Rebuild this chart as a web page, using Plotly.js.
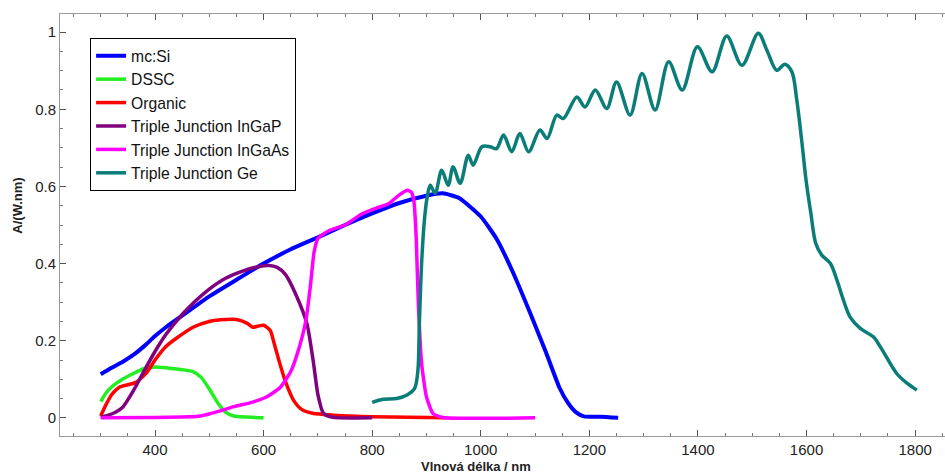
<!DOCTYPE html>
<html>
<head>
<meta charset="utf-8">
<script src="https://cdn.plot.ly/plotly-3.0.1.min.js"></script>
<style>
html,body{margin:0;padding:0;background:#fff;overflow:hidden;}
#chart{width:945px;height:476px;}
</style>
</head>
<body>
<div id="chart"></div>
<script>
// ---- Data ----
const seriesNames = ["mc:Si","DSSC","Organic","Triple Junction InGaP","Triple Junction InGaAs","Triple Junction Ge"];

const siX = [300,320,340,360,380,400,420,450,500,550,600,650,700,750,800,850,900,930,960,1000,1030,1060,1090,1120,1145,1160,1175,1190,1220,1253];
const siY = [0.113,0.130,0.145,0.163,0.186,0.212,0.235,0.265,0.315,0.358,0.400,0.437,0.468,0.500,0.530,0.557,0.576,0.582,0.570,0.522,0.462,0.375,0.275,0.170,0.078,0.040,0.015,0.004,0.003,0.000];

const dsscX = [300,310,320,340,360,380,400,420,450,470,485,500,515,530,545,570,600];
const dsscY = [0.042,0.065,0.080,0.100,0.115,0.128,0.132,0.130,0.125,0.120,0.105,0.075,0.040,0.015,0.005,0.002,0.000];

const orgX = [300,310,320,335,350,365,385,400,420,440,470,500,530,550,570,580,590,600,612,620,630,640,655,670,690,730,800,935];
const orgY = [0.005,0.035,0.060,0.080,0.086,0.092,0.118,0.150,0.185,0.207,0.235,0.250,0.255,0.255,0.245,0.235,0.238,0.240,0.227,0.190,0.140,0.095,0.046,0.022,0.012,0.007,0.003,0.000];

const ingapX = [300,320,340,360,380,400,420,450,480,500,530,560,590,610,625,640,660,680,692,700,710,725,800];
const ingapY = [0.002,0.010,0.027,0.070,0.122,0.172,0.216,0.268,0.310,0.334,0.362,0.380,0.392,0.395,0.390,0.372,0.318,0.243,0.141,0.060,0.012,0.002,0.000];

const ingaasX = [300,400,450,480,500,520,545,580,605,630,650,665,678,686,693,700,720,750,780,810,830,850,865,872,877,881,885,891,900,912,930,1100];
const ingaasY = [0.000,0.001,0.002,0.004,0.010,0.018,0.029,0.041,0.054,0.078,0.120,0.180,0.253,0.340,0.430,0.465,0.485,0.500,0.528,0.545,0.555,0.578,0.590,0.585,0.560,0.469,0.297,0.141,0.054,0.011,0.001,0.000];

const geX = [800,820,845,865,878,884,887,891,896,901,907,916,928,940,949,962,977,986,1002,1017,1029,1042,1057,1072,1088,1109,1122,1140,1152,1177,1192,1211,1232,1250,1275,1297,1321,1346,1371,1399,1426,1453,1481,1511,1527,1545,1560,1573,1582,1591,1599,1608,1617,1628,1644,1656,1668,1680,1699,1723,1736,1766,1785,1803];
const geY = [0.040,0.048,0.050,0.060,0.076,0.120,0.250,0.400,0.510,0.570,0.603,0.582,0.642,0.603,0.651,0.608,0.681,0.655,0.703,0.703,0.698,0.733,0.690,0.737,0.690,0.746,0.724,0.785,0.776,0.832,0.806,0.850,0.802,0.871,0.785,0.893,0.798,0.923,0.850,0.962,0.897,0.990,0.914,0.997,0.953,0.901,0.917,0.897,0.824,0.720,0.617,0.530,0.452,0.422,0.400,0.357,0.305,0.262,0.232,0.210,0.184,0.115,0.090,0.072];

const xTickVals = [400,600,800,1000,1200,1400,1600,1800];
const yTickVals = [0,0.2,0.4,0.6,0.8,1];
const yTickText = ["0","0.2","0.4","0.6","0.8","1"];

const xTitle = "Vlnová délka / nm";
const yTitle = "A/(W.nm)";

// ---- Styling ----
const colors = ["#0000ff","#22ee22","#ff0000","#800080","#ff00ff","#0a7d78"];
const widths = [4,3.5,3.5,3.5,3.5,3.5];
const smooth = [0.5,0.6,0.6,0.6,0.5,0.9];
const xs = [siX,dsscX,orgX,ingapX,ingaasX,geX];
const ys = [siY,dsscY,orgY,ingapY,ingaasY,geY];

const traces = seriesNames.map((n,i)=>({
  type:'scatter', mode:'lines', name:n, x:xs[i], y:ys[i],
  legendgroup:'g'+i,
  line:{color:colors[i], width:widths[i], shape:'spline', smoothing:smooth[i]},
  hoverinfo:'skip'
}));

const font = "Liberation Sans, Arial, sans-serif";
const axisCommon = {
  showgrid:false, zeroline:false, showline:true, linecolor:'#9a9a9a', linewidth:1,
  ticks:'inside', ticklen:6, tickwidth:1, tickcolor:'#555',
  tickfont:{family:font, size:15, color:'#222'}
};

const layout = {
  width:945, height:476,
  margin:{l:60, r:0, t:14, b:40},
  paper_bgcolor:'#fff', plot_bgcolor:'#fff',
  font:{family:font, color:'#222'},
  showlegend:true,
  legend:{
    x:0.034, y:0.943, xanchor:'left', yanchor:'top',
    bgcolor:'#fff', bordercolor:'#000', borderwidth:1,
    font:{family:font, size:15.7, color:'#111'},
    tracegroupgap:0, traceorder:'normal'
  },
  xaxis:Object.assign({}, axisCommon, {
    range:[225,1855], tickvals:xTickVals, ticktext:xTickVals.map(String),
    mirror:'allticks',
    minor:{dtick:50, tick0:0, ticks:'inside', ticklen:3, tickcolor:'#777', showgrid:false}
  }),
  yaxis:Object.assign({}, axisCommon, {
    range:[-0.047,1.047], tickvals:yTickVals, ticktext:yTickText,
    mirror:false,
    minor:{dtick:0.05, tick0:0, ticks:'inside', ticklen:3, tickcolor:'#777', showgrid:false}
  }),
  annotations:[
    {text:xTitle, xref:'paper', yref:'paper', x:0.470, y:-0.072, xanchor:'center', yanchor:'middle',
     showarrow:false, font:{family:font, size:13, color:'#222', weight:'bold'}},
    {text:yTitle, xref:'paper', yref:'paper', x:-0.049, y:0.545, xanchor:'center', yanchor:'middle',
     textangle:-90, showarrow:false, font:{family:font, size:13, color:'#222', weight:'bold'}}
  ]
};

Plotly.newPlot('chart', traces, layout, {displayModeBar:false, staticPlot:true});
</script>
</body>
</html>
